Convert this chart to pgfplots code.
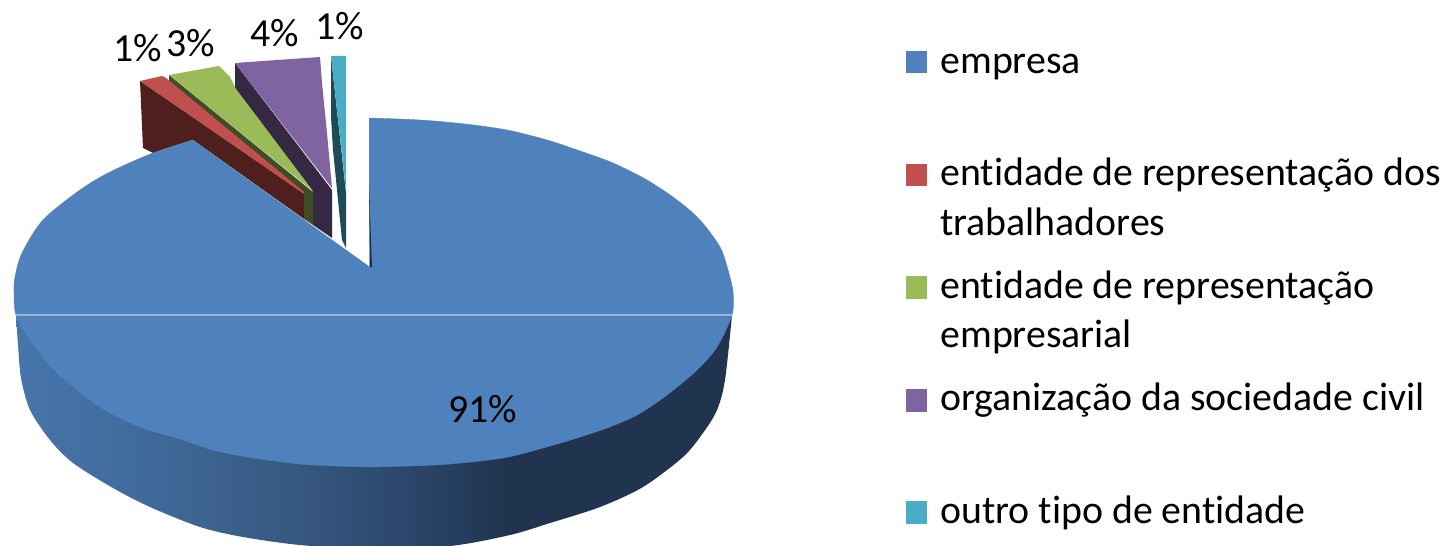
\documentclass[border=0pt]{standalone}
\usepackage{pgfplots}
\pgfplotsset{compat=1.18}
\usepackage{fontspec}
\setmainfont{Carlito}[Ligatures=NoCommon]
\definecolor{cblue}{HTML}{4F81BD}
\definecolor{cred}{HTML}{C0504D}
\definecolor{cgreen}{HTML}{9BBB59}
\definecolor{cpurple}{HTML}{8064A2}
\definecolor{cteal}{HTML}{4BACC6}
\definecolor{dred}{HTML}{4F1F1E}
\definecolor{dgreen}{HTML}{3F4D25}
\definecolor{dpurple}{HTML}{352843}
\definecolor{dteal}{HTML}{1F4A57}
\pgfdeclarehorizontalshading{sidefade}{100bp}{
 rgb(0bp)=(0.28,0.46,0.67);
 rgb(25bp)=(0.28,0.46,0.67);
 rgb(35bp)=(0.25,0.41,0.60);
 rgb(45bp)=(0.21,0.34,0.50);
 rgb(52bp)=(0.17,0.28,0.42);
 rgb(59bp)=(0.125,0.205,0.31);
 rgb(100bp)=(0.125,0.205,0.31)}
\newcommand{\lab}[3]{\node[anchor=base west,inner sep=0pt,font=\fontsize{19.9bp}{21bp}\selectfont] at (axis cs:#1,#2) {#3};}
\begin{document}
\begin{tikzpicture}
\useasboundingbox (0,0) rectangle (723.5bp,273bp);
\begin{axis}[at={(0,0)},anchor=south west,scale only axis,width=723.5bp,height=273bp,
 xmin=0,xmax=1447,ymin=0,ymax=546,y dir=reverse,hide axis,clip=true,no markers]
% side of the big slice
\addplot[shading=sidefade,draw=none,smooth] coordinates {(16,315)(18,345)(21,378)(30,410)(50,440)(73,463)(113,488)(150,507)(200,527)(243,537)(300,545)(370,549)(450,546)(510,535)(550,523)(600,507)(643,487)(683,457)(703,433)(717,410)(725,380)(732,315)};
% exploded slices: sides then tops
\addplot[fill=dred,draw=none] coordinates {(140,81)(304,193)(304,219)(193,140)(153,153)(143,148)};
\addplot[fill=dgreen,draw=none] coordinates {(169,75)(313,192)(313,225)(304,219)(304,193)(169,82)};
\addplot[fill=cred,draw=none] coordinates {(140,81)(162,76)(166,78)(304,192)(304,194)};
\addplot[fill=dpurple,draw=none] coordinates {(235,63)(332,190)(332,238)(313,225)(313,192)(235,88)};
\addplot[fill=cgreen,draw=none] coordinates {(169,75)(219,66)(230,77)(236,89)(313,191)};
\addplot[fill=cpurple,draw=none] coordinates {(235,63)(320,57)(322,83)(327,133)(332,188)};
\addplot[fill=dteal,draw=none] coordinates {(331,56)(331,117)(333,150)(342,240)(346,248)(346,193)};
\addplot[fill=cteal,draw=none] coordinates {(331,56)(346,56)(346,190)};
% top of the big slice: right rim, left rim, and the inner polygon
\addplot[fill=cblue,draw=cblue,line width=0.2bp,smooth] coordinates {(369,118)(420,120)(465,124)(507,130)(547,140)(583,152)(613,163)(647,180)(677,200)(700,220)(720,247)(728,270)(733,292)(732,315)(717,347)(697,370)(667,395)(637,415)(607,428)(577,438)(543,448)(503,458)(450,464)(410,466)(370,467)};
\addplot[fill=cblue,draw=cblue,line width=0.2bp,smooth] coordinates {(370,467)(335,466)(300,464)(253,458)(213,450)(177,438)(140,427)(100,407)(57,373)(30,340)(16,315)(14,293)(15,277)(22,253)(43,220)(80,190)(110,172)(153,153)(193,140)};
\addplot[fill=cblue,draw=none] coordinates {(193,140)(370,267)(380,267)(380,466.5)(360,466.5)(170,160)};
\addplot[fill=dteal!70!black,draw=none] coordinates {(369,187)(372,267)(370,267)};
\addplot[color=cblue!60!white,line width=0.6bp] coordinates {(16,315)(732,315)};
% legend swatches
\addplot[fill=cblue,draw=none] coordinates {(906,51)(927,51)(927,73)(906,73)};
\addplot[fill=cred,draw=none] coordinates {(906,164)(927,164)(927,186)(906,186)};
\addplot[fill=cgreen,draw=none] coordinates {(906,276)(927,276)(927,299)(906,299)};
\addplot[fill=cpurple,draw=none] coordinates {(906,389)(927,389)(927,412)(906,412)};
\addplot[fill=cteal,draw=none] coordinates {(906,501)(927,501)(927,524)(906,524)};
% legend text
\lab{940}{73}{empresa}
\lab{940}{185}{entidade de representação dos}
\lab{940}{235}{trabalhadores}
\lab{940}{298}{entidade de representação}
\lab{940}{347}{empresarial}
\lab{940}{410}{organização da sociedade civil}
\lab{940}{523}{outro tipo de entidade}
% data labels
\lab{448}{422}{91\%}
\lab{113}{62}{1\%}
\lab{166}{57}{3\%}
\lab{250}{47}{4\%}
\lab{315}{40}{1\%}
\end{axis}
\end{tikzpicture}
\end{document}
